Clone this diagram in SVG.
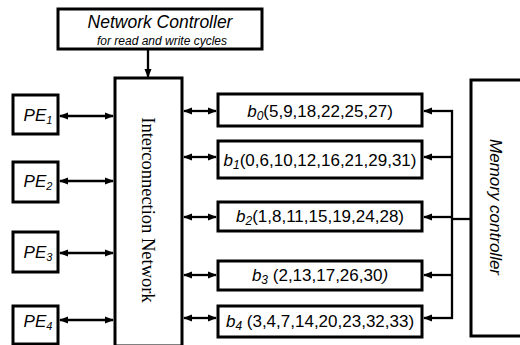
<svg xmlns="http://www.w3.org/2000/svg" width="520" height="345" viewBox="0 0 520 345">
<defs>
<marker id="ah" markerWidth="9" markerHeight="9" refX="8" refY="4.5" orient="auto-start-reverse" markerUnits="userSpaceOnUse">
<path d="M0,1 L9,4.5 L0,8 Z" fill="#000"/>
</marker>
<style>
.box{fill:#fff;stroke:#000;stroke-width:3}
.ln{fill:none;stroke:#000;stroke-width:2.3}
.sans{font-family:"Liberation Sans","Open Sans",Arial,sans-serif;fill:#000}
.it{font-style:italic}
.serif{font-family:"Liberation Serif","Times New Roman",serif;fill:#000}
</style>
</defs>
<g id="network-controller">
<rect class="box" x="58" y="9" width="204" height="40"/>
<text class="sans it" x="160" y="28" font-size="17.5" text-anchor="middle">Network Controller</text>
<text class="sans it" x="162" y="45" font-size="12" text-anchor="middle">for read and write cycles</text>
</g>
<g id="interconnection-network">
<rect class="box" x="115" y="78" width="67" height="268"/>
<text class="serif" transform="translate(142,210) rotate(90)" font-size="18.5" text-anchor="middle">Interconnection Network</text>
</g>
<g id="pe1"><rect class="box" x="13" y="95" width="45" height="39"/><text class="sans it" x="38" y="121" font-size="17" text-anchor="middle">PE<tspan font-size="11" dy="3">1</tspan></text></g>
<g id="pe2"><rect class="box" x="13" y="162" width="45" height="40"/><text class="sans it" x="38" y="187" font-size="17" text-anchor="middle">PE<tspan font-size="11" dy="3">2</tspan></text></g>
<g id="pe3"><rect class="box" x="13" y="232" width="45" height="40"/><text class="sans it" x="38" y="258" font-size="17" text-anchor="middle">PE<tspan font-size="11" dy="3">3</tspan></text></g>
<g id="pe4"><rect class="box" x="13" y="306" width="45" height="38"/><text class="sans it" x="38" y="327" font-size="17" text-anchor="middle">PE<tspan font-size="11" dy="3">4</tspan></text></g>
<g id="b0"><rect class="box" x="218" y="94" width="204" height="32"/><text class="sans" x="320" y="117" font-size="17" text-anchor="middle"><tspan class="it">b</tspan><tspan class="it" font-size="12" dy="3">0</tspan><tspan dy="-3">(5,9,18,22,25,27)</tspan></text></g>
<g id="b1"><rect class="box" x="218" y="141" width="204" height="37"/><text class="sans" x="320" y="166" font-size="17" text-anchor="middle"><tspan class="it">b</tspan><tspan class="it" font-size="12" dy="3">1</tspan><tspan dy="-3">(0,6,10,12,16,21,29,31)</tspan></text></g>
<g id="b2"><rect class="box" x="218" y="202" width="204" height="29"/><text class="sans" x="320" y="222" font-size="17" text-anchor="middle"><tspan class="it">b</tspan><tspan class="it" font-size="12" dy="3">2</tspan><tspan dy="-3">(1,8,11,15,19,24,28)</tspan></text></g>
<g id="b3"><rect class="box" x="218" y="261" width="204" height="29"/><text class="sans" x="320" y="281" font-size="17" text-anchor="middle"><tspan class="it">b</tspan><tspan class="it" font-size="12" dy="3">3</tspan><tspan dy="-3"> (2,13,17,26,30</tspan><tspan class="it">)</tspan></text></g>
<g id="b4"><rect class="box" x="218" y="306" width="204" height="31"/><text class="sans" x="320" y="327" font-size="17" text-anchor="middle"><tspan class="it">b</tspan><tspan class="it" font-size="12" dy="3">4</tspan><tspan dy="-3"> (3,4,7,14,20,23,32,33)</tspan></text></g>
<g id="memory-controller">
<rect class="box" x="471" y="80" width="60" height="256"/>
<text class="sans it" transform="translate(490,207) rotate(90)" font-size="17" text-anchor="middle">Memory controller</text>
</g>
<g id="connectors">
<line class="ln" x1="148" y1="49" x2="148" y2="77" marker-end="url(#ah)"/>
<line class="ln" x1="60" y1="116" x2="113" y2="116" marker-start="url(#ah)" marker-end="url(#ah)"/>
<line class="ln" x1="60" y1="181" x2="113" y2="181" marker-start="url(#ah)" marker-end="url(#ah)"/>
<line class="ln" x1="60" y1="253" x2="113" y2="253" marker-start="url(#ah)" marker-end="url(#ah)"/>
<line class="ln" x1="60" y1="320" x2="113" y2="320" marker-start="url(#ah)" marker-end="url(#ah)"/>
<line class="ln" x1="184" y1="111" x2="216" y2="111" marker-start="url(#ah)" marker-end="url(#ah)"/>
<line class="ln" x1="184" y1="157" x2="216" y2="157" marker-start="url(#ah)" marker-end="url(#ah)"/>
<line class="ln" x1="184" y1="217" x2="216" y2="217" marker-start="url(#ah)" marker-end="url(#ah)"/>
<line class="ln" x1="184" y1="275" x2="216" y2="275" marker-start="url(#ah)" marker-end="url(#ah)"/>
<line class="ln" x1="184" y1="318" x2="216" y2="318" marker-start="url(#ah)" marker-end="url(#ah)"/>
<line class="ln" x1="452" y1="110" x2="452" y2="319"/>
<line class="ln" x1="452" y1="219" x2="471" y2="219"/>
<line class="ln" x1="453" y1="111" x2="424" y2="111" marker-end="url(#ah)"/>
<line class="ln" x1="453" y1="157" x2="424" y2="157" marker-end="url(#ah)"/>
<line class="ln" x1="453" y1="217" x2="424" y2="217" marker-end="url(#ah)"/>
<line class="ln" x1="453" y1="275" x2="424" y2="275" marker-end="url(#ah)"/>
<line class="ln" x1="453" y1="318" x2="424" y2="318" marker-end="url(#ah)"/>
</g>
</svg>
